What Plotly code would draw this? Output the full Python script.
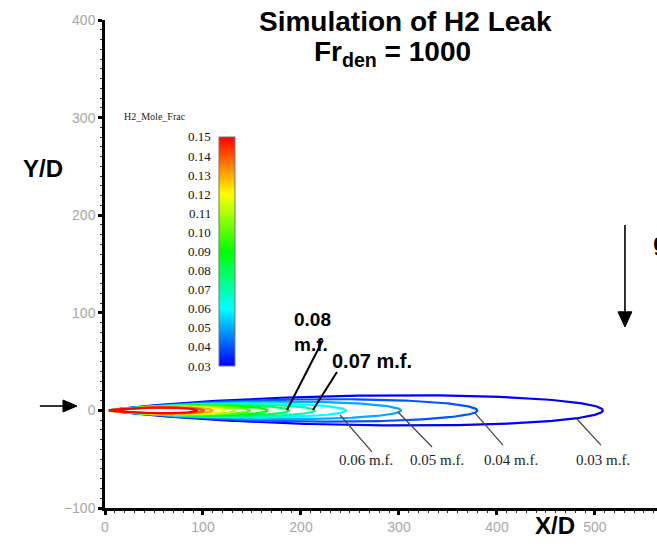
import numpy as np
import plotly.graph_objects as go

# ---------------- data ----------------
levels = [0.03, 0.04, 0.05, 0.06, 0.07, 0.08, 0.09, 0.10, 0.11, 0.12, 0.13, 0.14, 0.15]
tip_x = [508, 380, 302, 246, 214, 188, 166, 148, 133, 121, 110, 101, 94]      # X/D where each iso-line closes
half_width = [15.5, 11.5, 9.0, 7.2, 6.2, 5.6, 5.0, 4.5, 4.1, 3.7, 3.4, 3.1, 2.9]  # max half thickness (Y/D)
nozzle_x = 4
centre_y = 0

cb_labels = ["0.15", "0.14", "0.13", "0.12", "0.11", "0.10", "0.09", "0.08",
             "0.07", "0.06", "0.05", "0.04", "0.03"]
x_ticks = [0, 100, 200, 300, 400, 500]
y_ticks = [-100, 0, 100, 200, 300, 400]

bottom_labels = ["0.06 m.f.", "0.05 m.f.", "0.04 m.f.", "0.03 m.f."]

rainbow = [[0.0, "rgb(0,0,255)"], [0.25, "rgb(0,255,255)"], [0.5, "rgb(0,255,0)"],
           [0.75, "rgb(255,255,0)"], [1.0, "rgb(255,0,0)"]]
cmin, cmax = 0.03, 0.15


def colour(v):
    f = (v - cmin) / (cmax - cmin)
    stops = [(0.0, (0, 0, 255)), (0.25, (0, 255, 255)), (0.5, (0, 255, 0)),
             (0.75, (255, 255, 0)), (1.0, (255, 0, 0))]
    for (a, ca), (b, cb) in zip(stops[:-1], stops[1:]):
        if a <= f <= b:
            t = (f - a) / (b - a)
            c = [round(ca[i] + t * (cb[i] - ca[i])) for i in range(3)]
            return f"rgb({c[0]},{c[1]},{c[2]})"
    return "rgb(255,0,0)"


def outline(L, W):
    t = np.linspace(0, 1, 160)
    s = (1 - np.cos(np.pi * t)) / 2
    s = np.clip(s, 1e-9, 1 - 1e-12)
    g = s * np.sqrt(-np.log(s)) / (np.exp(-0.5) * np.sqrt(0.5))
    xs = nozzle_x + s * (L - nozzle_x)
    xx = np.concatenate([xs, xs[::-1]])
    yy = np.concatenate([centre_y + W * g, (centre_y - W * g)[::-1]])
    return xx, yy


fig = go.Figure()

for lv, L, W in zip(levels, tip_x, half_width):
    xx, yy = outline(L, W)
    fig.add_trace(go.Scatter(x=xx, y=yy, mode="lines",
                             line=dict(color=colour(lv), width=2.2),
                             hoverinfo="skip", showlegend=False))

# colour bar holder
cb_y, cb_len = 0.5256, 0.4693
fig.add_trace(go.Scatter(
    x=[-1000], y=[-1000], mode="markers", showlegend=False, hoverinfo="skip",
    marker=dict(color=[cmin], colorscale=rainbow, cmin=cmin, cmax=cmax, showscale=True,
                colorbar=dict(x=0.2065, xanchor="left", y=cb_y, yanchor="middle",
                              len=cb_len, lenmode="fraction", thickness=16,
                              xpad=0, ypad=0, outlinecolor="#777", outlinewidth=1,
                              showticklabels=False, ticks=""))))

ann = []
# colour bar labels
cb_y0 = cb_y - cb_len / 2
for lab in cb_labels:
    v = float(lab)
    ann.append(dict(x=0.1957, y=cb_y0 + (v - cmin) / (cmax - cmin) * cb_len,
                    xref="paper", yref="paper", xanchor="right", yanchor="middle",
                    text=lab, showarrow=False,
                    font=dict(family="Liberation Serif", size=13, color="#111")))
ann.append(dict(x=0.0906, y=0.818, xref="paper", yref="paper", xanchor="center",
                text="H2_Mole_Frac", showarrow=False,
                font=dict(family="Liberation Serif", size=10, color="#222")))

# titles
ann.append(dict(x=0.5435, y=0.996, xref="paper", yref="paper", xanchor="center",
                yanchor="middle", text="<b>Simulation of H2 Leak</b>", showarrow=False,
                font=dict(family="Arial", size=28, color="black")))
ann.append(dict(x=0.520, y=0.932, xref="paper", yref="paper", xanchor="center",
                yanchor="middle", text="<b>Fr<sub>den</sub> = 1000</b>", showarrow=False,
                font=dict(family="Arial", size=28, color="black")))
ann.append(dict(x=-0.1123, y=0.7275, xref="paper", yref="paper", xanchor="center",
                text="<b>Y/D</b>", showarrow=False,
                font=dict(family="Arial", size=24, color="black")))
ann.append(dict(x=0.815, y=-0.0676, xref="paper", yref="paper", xanchor="center",
                text="<b>X/D</b>", showarrow=False,
                font=dict(family="Arial", size=24, color="black")))
ann.append(dict(x=0.989, y=0.545, xref="paper", yref="paper", xanchor="left",
                text="<b>g</b>", showarrow=False,
                font=dict(family="Arial", size=26, color="black")))

# bold labels on the near field
ann.append(dict(x=190.8, y=106, xanchor="left", yanchor="top", align="left",
                text="<b>0.08<br>m.f.</b>", showarrow=False,
                font=dict(family="Arial", size=19, color="black")))
ann.append(dict(x=229.6, y=50.6, xanchor="left", yanchor="middle",
                text="<b>0.07 m.f.</b>", showarrow=False,
                font=dict(family="Arial", size=20, color="black")))

# serif labels under the plume
for lab, xc in zip(bottom_labels, [266.8, 339.3, 414.3, 507.7]):
    ann.append(dict(x=xc, y=-50.8, xanchor="center", text=lab, showarrow=False,
                    font=dict(family="Liberation Serif", size=15, color="#222")))

shapes = []
# leader lines
for (x0, y0, x1, y1) in [(222.4, 72.1, 185.7, 0.4), (236.7, 39.3, 212.2, 0.4)]:
    shapes.append(dict(type="line", x0=x0, y0=y0, x1=x1, y1=y1,
                       line=dict(color="black", width=2)))
for (x0, y0, x1, y1) in [(239.8, -4.7, 272.4, -42.6), (299, -1.6, 333.7, -37.5),
                         (377.6, -2.7, 406.1, -35.5), (481.6, -8.8, 506.1, -35.5)]:
    shapes.append(dict(type="line", x0=x0, y0=y0, x1=x1, y1=y1,
                       line=dict(color="#444", width=1.2)))

# injection arrow (left, in paper units)
shapes.append(dict(type="line", xref="paper", yref="paper", x0=-0.118, y0=0.209,
                   x1=-0.070, y1=0.209, line=dict(color="black", width=1.6)))
shapes.append(dict(type="path", xref="paper", yref="paper",
                   path="M -0.0507 0.209 L -0.0761 0.2213 L -0.0761 0.1967 Z",
                   fillcolor="black", line=dict(color="black", width=1)))
# gravity arrow (data units)
shapes.append(dict(type="line", x0=530.6, y0=190, x1=530.6, y1=100,
                   line=dict(color="black", width=1.6)))
shapes.append(dict(type="path",
                   path="M 530.6 85.5 L 523.5 101 L 537.7 101 Z",
                   fillcolor="black", line=dict(color="black", width=1)))

axis_common = dict(showgrid=False, zeroline=False, showline=True, linecolor="black",
                   linewidth=2.5, ticks="outside", ticklen=4, tickwidth=3,
                   tickcolor="black",
                   tickfont=dict(family="Arial", size=14, color="#a8a8a8"),
                   minor=dict(dtick=10, ticks="outside", ticklen=2, tickwidth=1,
                              tickcolor="#333"))

fig.update_layout(
    width=657, height=547, autosize=False,
    margin=dict(l=105, r=0, t=20, b=39),
    paper_bgcolor="white", plot_bgcolor="white",
    xaxis=dict(range=[0, 563.3], tickvals=x_ticks, **axis_common),
    yaxis=dict(range=[-100, 400], tickvals=y_ticks, **axis_common),
    annotations=ann, shapes=shapes, showlegend=False,
)

fig.write_html("out.html")
